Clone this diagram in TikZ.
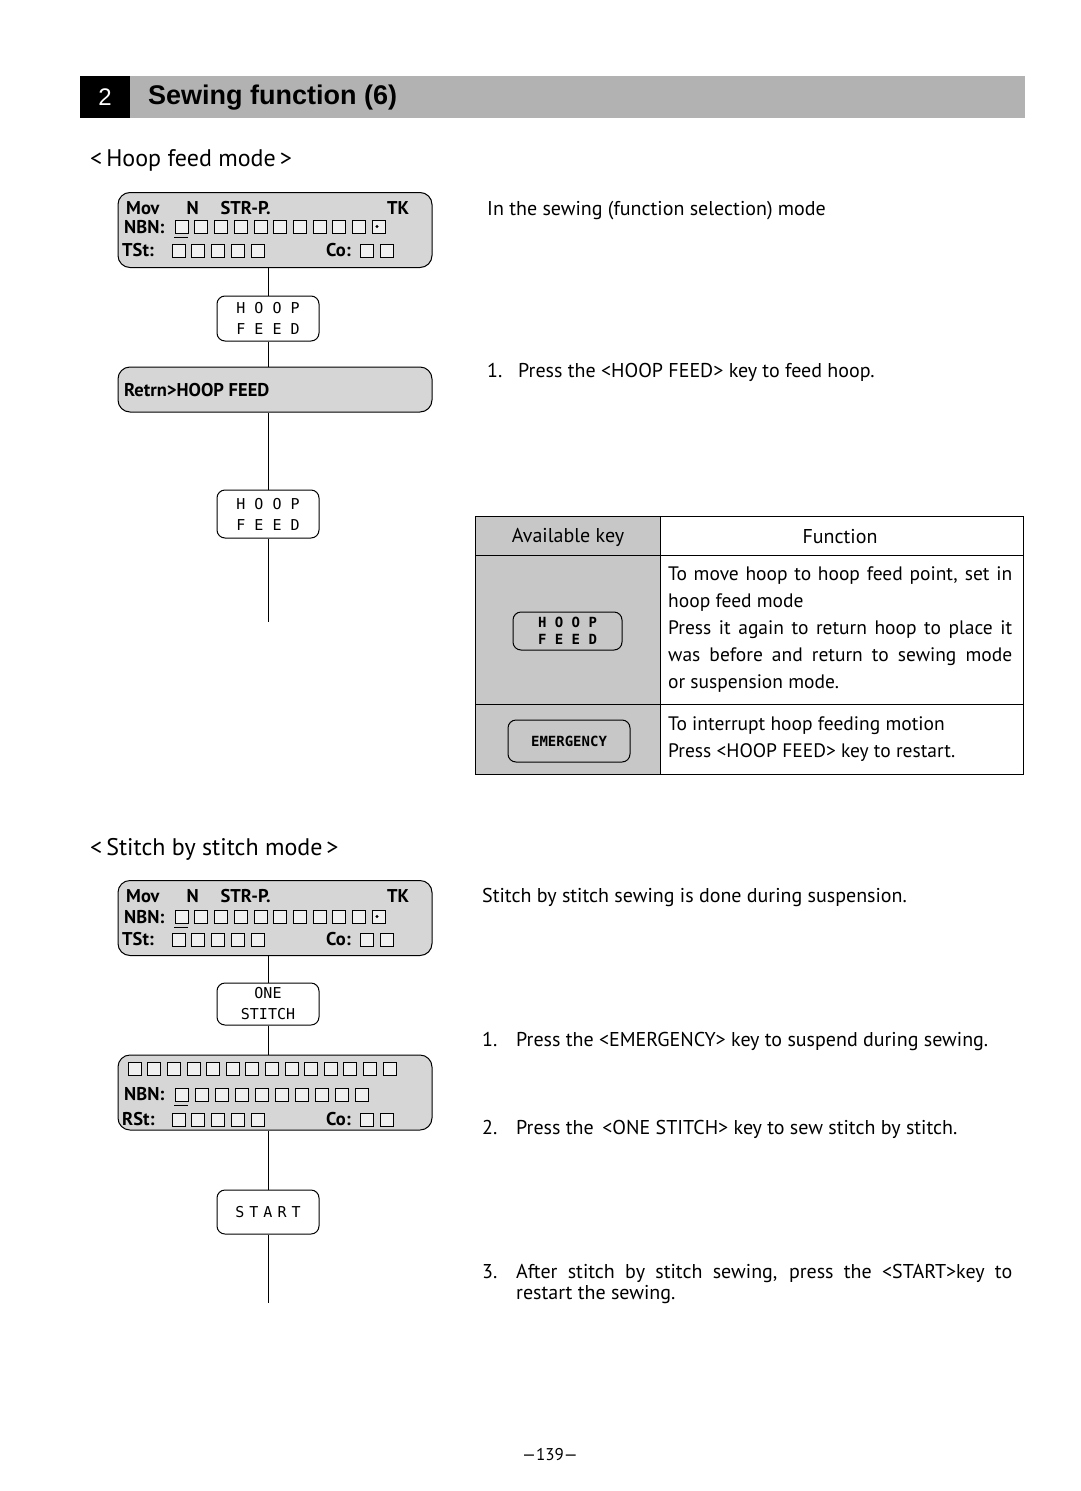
\documentclass[tikz,border=0pt]{standalone}
\usepackage{fontspec}
\setmainfont{PT Sans}
\setmonofont{DejaVu Sans Mono}
\newfontfamily\headfont{Liberation Sans}
\usetikzlibrary{positioning}

\begin{document}
\begin{tikzpicture}[x=1pt,y=-1pt,
	lcd/.style={draw,line width=1pt,rounded corners=12pt,fill=black!16,minimum width=314pt,minimum height=75pt,inner sep=0pt},
	lcdtxt/.style={anchor=west,inner sep=0pt,font=\fontsize{18.5}{20}\selectfont\bfseries},
	keybox/.style={draw,line width=1pt,rounded corners=8pt,minimum width=102pt,minimum height=45pt,align=center,font=\fontsize{15}{21}\ttfamily},
	tabkey/.style={draw,line width=1pt,rounded corners=8pt,align=center,font=\fontsize{14}{17}\ttfamily\bfseries},
	txt/.style={anchor=west,inner sep=0pt,font=\fontsize{20}{24}\selectfont},
	cell/.style={draw,line width=0.6pt,fill=black!6},
	link/.style={line width=0.9pt}]
	\useasboundingbox (0,0) rectangle (1080,1491);
	% header bar
	\fill[black!30] (130,76) rectangle (1025,118);
	\fill (80,76) rectangle (130,118);
	\node[text=white,font=\fontsize{24}{26}\headfont] (num) at (105,97) {2};
	\node[anchor=west,inner sep=0pt,font=\fontsize{27}{30}\headfont\bfseries] (title) at (148,98) {Sewing function (6)};
	% hoop feed mode
	\node[anchor=west,inner sep=0pt,font=\fontsize{24}{26}\selectfont] (hoophd) at (90,160) {<\,Hoop feed mode\,>};
	\node[lcd] (dispA) at (275,230) {};
	\node[lcdtxt] (movA) at (126,208) {Mov\hspace{27pt}N\hspace{22pt}STR-P.};
	\node[lcdtxt] (tkA) at (387,208) {TK};
	\node[lcdtxt] (nbnA) at (124,227) {NBN:};
	\foreach \i in {0,...,10} \draw[cell] (175+19.7*\i,220) rectangle ++(13,13);
	\draw[line width=1pt] (174,237) -- (188,237);
	\fill (377,226.5) circle (1.6);
	\node[lcdtxt] (tstA) at (122,250) {TSt:};
	\foreach \i in {0,...,4} \draw[cell] (172+19.7*\i,244) rectangle ++(13,13);
	\node[lcdtxt] (coA) at (326,250) {Co:};
	\foreach \i in {0,1} \draw[cell] (360+20*\i,244) rectangle ++(13,13);
	\node[keybox] (keyA) at (268,318.5) {H O O P\\F E E D};
	\node[lcd,minimum height=45pt] (dispB) at (275,389.5) {};
	\node[lcdtxt] (retA) at (124,390) {Retrn>HOOP FEED};
	\node[keybox,minimum height=48pt] (keyB) at (268,514) {H O O P\\F E E D};
	\coordinate (endA) at (268,622);
	\draw[link] (keyA.north) -- (keyA.north |- dispA.south);
	\draw[link] (keyA.south) -- (keyA.south |- dispB.north);
	\draw[link] (keyB.north) -- (keyB.north |- dispB.south);
	\draw[link] (keyB) -- (endA);
	\node[txt] (selA) at (487,211) {In the sewing (function selection) mode};
	\node[txt] (stepA) at (487,372) {\makebox[31pt][l]{1.}Press the <HOOP FEED> key to feed hoop.};
	% table of keys
	\fill[black!22] (475,516) rectangle (660,774);
	\draw[line width=1pt] (475,516) rectangle (1023,774);
	\draw[line width=1pt] (660,516) -- (660,774);
	\draw[line width=1pt] (475,555) -- (1023,555);
	\draw[line width=1pt] (475,704) -- (1023,704);
	\node[txt,anchor=center] (avail) at (568,537) {Available key};
	\node[txt,anchor=center] (func) at (840,537) {Function};
	\node[tabkey,minimum width=109pt,minimum height=38pt] (keyC) at (567.5,631) {H O O P\\F E E D};
	\node[tabkey,minimum width=122pt,minimum height=42pt] (keyD) at (569,741) {EMERGENCY};
	\node[txt,anchor=north west,align=left,font=\fontsize{19.5}{27}\selectfont] (funcA) at (668,566)
		{\makebox[344pt][s]{To move hoop to hoop feed point, set in}\\hoop feed mode\\\makebox[344pt][s]{Press it again to return hoop to place it}\\\makebox[344pt][s]{was before and return to sewing mode}\\or suspension mode.};
	\node[txt,anchor=north west,align=left,font=\fontsize{19.5}{27}\selectfont] (funcB) at (668,716)
		{To interrupt hoop feeding motion\\Press <HOOP FEED> key to restart.};
	% stitch by stitch mode
	\node[anchor=west,inner sep=0pt,font=\fontsize{24}{26}\selectfont] (stitchhd) at (90,849) {<\,Stitch by stitch mode\,>};
	\node[lcd] (dispC) at (275,918) {};
	\node[lcdtxt] (movC) at (126,896) {Mov\hspace{27pt}N\hspace{22pt}STR-P.};
	\node[lcdtxt] (tkC) at (387,896) {TK};
	\node[lcdtxt] (nbnC) at (124,917) {NBN:};
	\foreach \i in {0,...,10} \draw[cell] (175+19.7*\i,910) rectangle ++(13,13);
	\draw[line width=1pt] (174,927) -- (188,927);
	\fill (377,916.5) circle (1.6);
	\node[lcdtxt] (tstC) at (122,939) {TSt:};
	\foreach \i in {0,...,4} \draw[cell] (172+19.7*\i,933) rectangle ++(13,13);
	\node[lcdtxt] (coC) at (326,939) {Co:};
	\foreach \i in {0,1} \draw[cell] (360+20*\i,933) rectangle ++(13,13);
	\node[keybox,minimum height=42pt] (keyE) at (268,1004) {ONE\\STITCH};
	\node[lcd] (dispD) at (275,1092.5) {};
	\foreach \i in {0,...,13} \draw[cell] (128+19.6*\i,1062) rectangle ++(13,13);
	\node[lcdtxt] (nbnD) at (124,1094) {NBN:};
	\foreach \i in {0,...,9} \draw[cell] (175+20*\i,1088) rectangle ++(13,13);
	\draw[line width=1pt] (174,1105) -- (188,1105);
	\node[lcdtxt] (rstD) at (122,1119) {RSt:};
	\foreach \i in {0,...,4} \draw[cell] (172+19.7*\i,1113) rectangle ++(13,13);
	\node[lcdtxt] (coD) at (326,1119) {Co:};
	\foreach \i in {0,1} \draw[cell] (360+20*\i,1113) rectangle ++(13,13);
	\node[keybox,minimum height=44pt] (keyF) at (268,1212) {S\,\,T\,\,A\,\,R\,\,T};
	\coordinate (endB) at (268,1303);
	\draw[link] (keyE.north) -- (keyE.north |- dispC.south);
	\draw[link] (keyE.south) -- (keyE.south |- dispD.north);
	\draw[link] (keyF.north) -- (keyF.north |- dispD.south);
	\draw[link] (keyF) -- (endB);
	\node[txt] (selC) at (482,897) {Stitch by stitch sewing is done during suspension.};
	\node[txt] (stepC) at (482,1041) {\makebox[34pt][l]{1.}Press the <EMERGENCY> key to suspend during sewing.};
	\node[txt] (stepD) at (482,1129) {\makebox[34pt][l]{2.}Press the\, <ONE STITCH> key to sew stitch by stitch.};
	\node[txt] (stepE) at (482,1273) {\makebox[34pt][l]{3.}\makebox[496pt][s]{After stitch by stitch sewing, press the <START>key to}};
	\node[txt] (stepF) at (516,1295) {restart the sewing.};
	% page number
	\node[font=\fontsize{17}{18}\selectfont] (page) at (550,1455) {—139—};
\end{tikzpicture}
\end{document}
